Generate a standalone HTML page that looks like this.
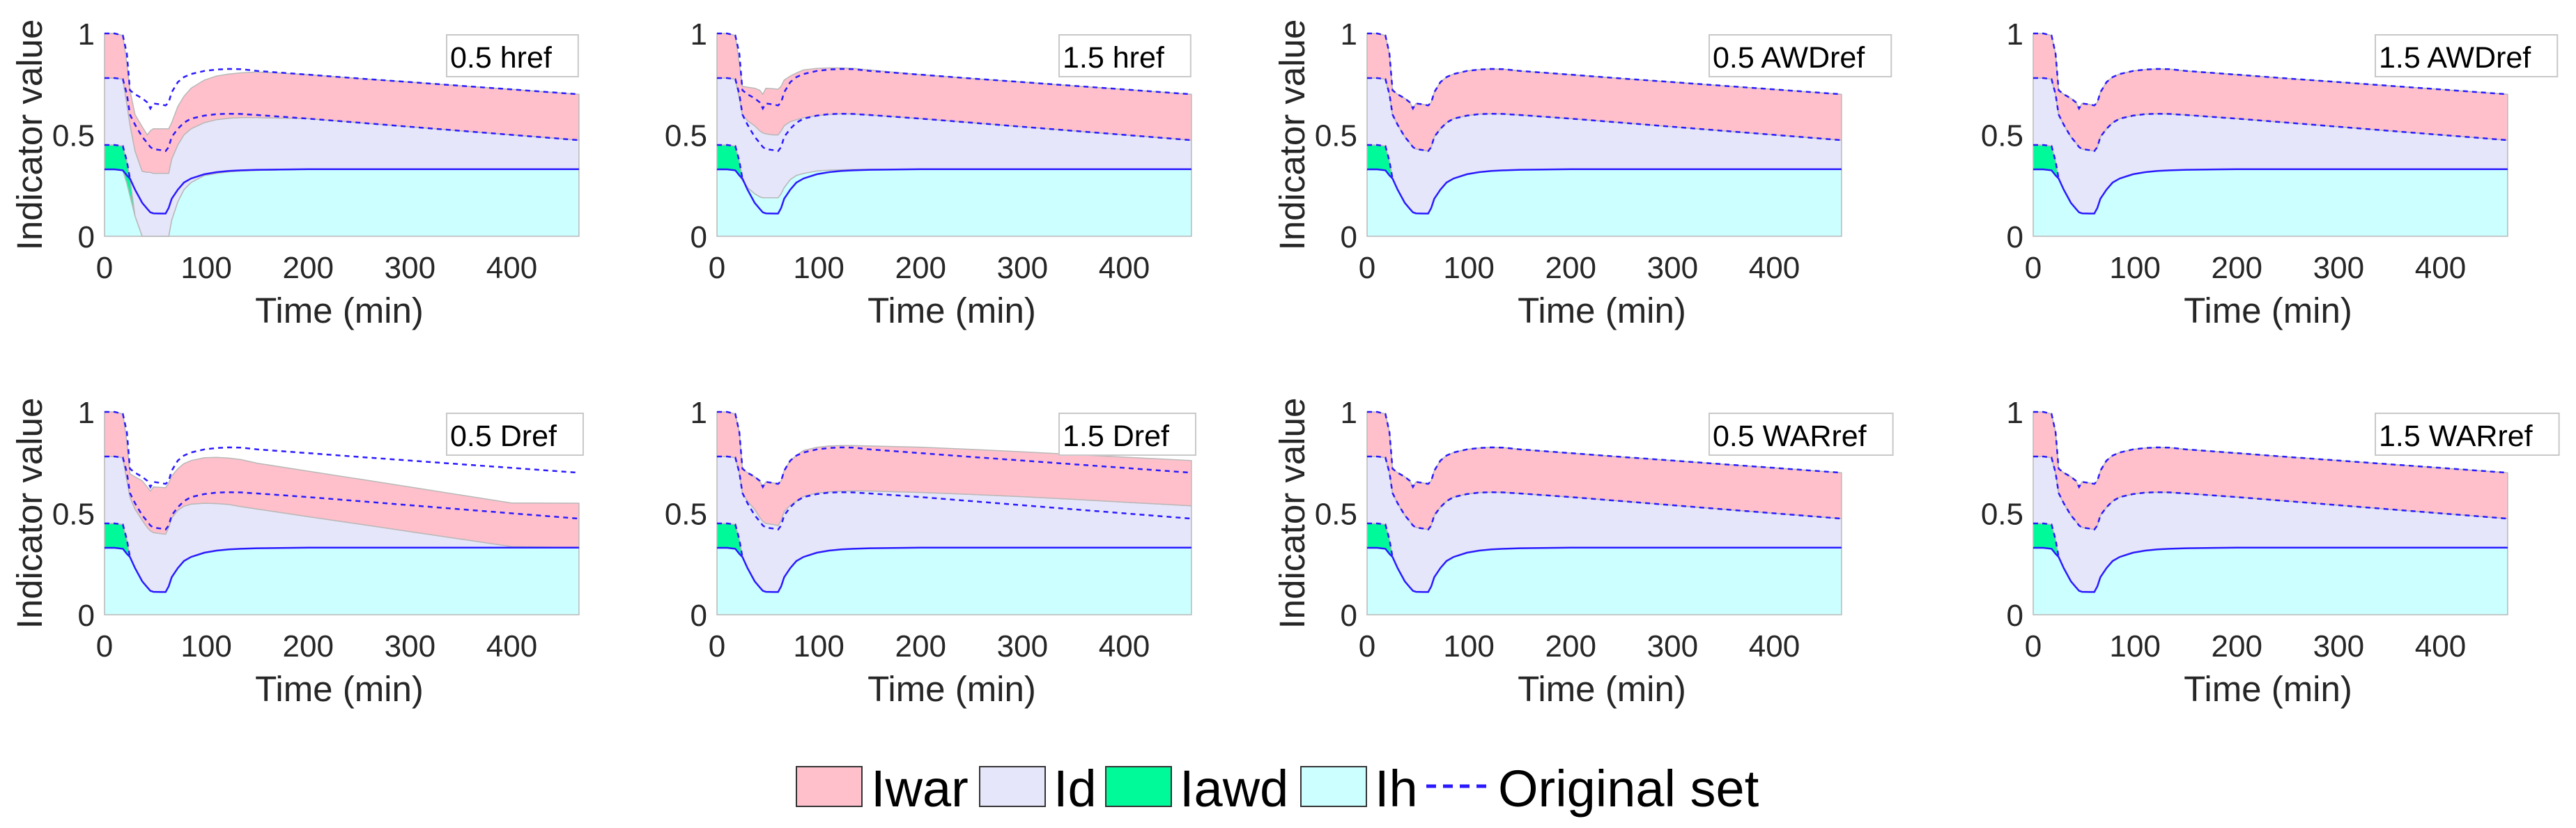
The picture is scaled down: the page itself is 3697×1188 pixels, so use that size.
<!DOCTYPE html>
<html><head><meta charset="utf-8"><style>
html,body{margin:0;padding:0;background:#fff;}
svg{display:block;font-family:"Liberation Sans",Arial,sans-serif;}
</style></head><body>
<svg id="fig" xmlns="http://www.w3.org/2000/svg" width="3697" height="1188" viewBox="0 0 3697 1188">
<rect x="0" y="0" width="3697" height="1188" fill="#fff"/>
<g id="panels"></g>
<g id="legend">
  <rect x="1143" y="1100" width="94" height="57" fill="#ffc0cb" stroke="#333" stroke-width="2"/>
  <text x="1250" y="1157" font-size="74">Iwar</text>
  <rect x="1406" y="1100" width="94" height="57" fill="#e6e6fa" stroke="#333" stroke-width="2"/>
  <text x="1512" y="1157" font-size="74">Id</text>
  <rect x="1587" y="1100" width="94" height="57" fill="#00fa9a" stroke="#333" stroke-width="2"/>
  <text x="1693" y="1157" font-size="74">Iawd</text>
  <rect x="1867" y="1100" width="94" height="57" fill="#ccffff" stroke="#333" stroke-width="2"/>
  <text x="1973" y="1157" font-size="74">Ih</text>
  <line x1="2047" y1="1128" x2="2142" y2="1128" stroke="#2a1aff" stroke-width="5" stroke-dasharray="14,10"/>
  <text x="2150" y="1157" font-size="74">Original set</text>
</g>
</svg>
<script>
const TIME = [0,10,18,22,25,30,37,42,45,48,55,60,63,66,72,78,85,98,110,122,134,150,200,250,300,350,400,466];
const ORIG_TOTAL = [1,1,0.99,0.9,0.72,0.7,0.68,0.66,0.63,0.655,0.65,0.645,0.66,0.71,0.76,0.785,0.80,0.815,0.822,0.825,0.824,0.815,0.797,0.778,0.76,0.742,0.724,0.70];
const ORIG_D = [0.78,0.78,0.775,0.7,0.6,0.55,0.49,0.46,0.44,0.43,0.425,0.42,0.44,0.49,0.53,0.56,0.58,0.595,0.602,0.604,0.603,0.598,0.58,0.56,0.54,0.52,0.5,0.474];
const ORIG_H = [0.33,0.33,0.325,0.30,0.285,0.23,0.165,0.135,0.118,0.113,0.112,0.112,0.14,0.185,0.23,0.265,0.285,0.306,0.316,0.322,0.325,0.328,0.331,0.331,0.331,0.331,0.331,0.331];
const AWD_HEAD = [0.45,0.45,0.445,0.37,0.285];

const HREF05_TOTAL = [1,1,0.99,0.85,0.72,0.6,0.54,0.5,0.52,0.53,0.53,0.53,0.53,0.56,0.64,0.69,0.73,0.77,0.79,0.8,0.806,0.81,0.797,0.778,0.76,0.742,0.724,0.70];
const HREF05_D = [0.78,0.78,0.775,0.65,0.55,0.42,0.32,0.315,0.315,0.31,0.31,0.31,0.31,0.38,0.45,0.5,0.53,0.56,0.575,0.582,0.585,0.585,0.58,0.56,0.54,0.52,0.5,0.474];
const HREF05_H = [0.33,0.33,0.325,0.26,0.2,0.1,0,0,0,0,0,0,0,0.08,0.17,0.23,0.265,0.3,0.31,0.318,0.322,0.325,0.33,0.331,0.331,0.331,0.331,0.331];

const HREF15_TOTAL = [1,1,0.99,0.85,0.74,0.735,0.73,0.72,0.70,0.73,0.728,0.725,0.74,0.77,0.79,0.805,0.82,0.828,0.83,0.83,0.828,0.82,0.797,0.778,0.76,0.742,0.724,0.70];
const HREF15_D = [0.78,0.78,0.775,0.68,0.6,0.57,0.545,0.52,0.51,0.505,0.5,0.5,0.52,0.545,0.565,0.575,0.585,0.595,0.6,0.604,0.603,0.598,0.58,0.56,0.54,0.52,0.5,0.474];
const HREF15_H = [0.33,0.33,0.325,0.3,0.275,0.24,0.21,0.195,0.19,0.19,0.19,0.19,0.21,0.24,0.28,0.3,0.31,0.322,0.326,0.328,0.33,0.331,0.331,0.331,0.331,0.331,0.331,0.331];

const DREF05_TOTAL = [1,1,0.99,0.85,0.695,0.68,0.66,0.63,0.61,0.63,0.628,0.626,0.65,0.684,0.72,0.745,0.76,0.774,0.776,0.772,0.765,0.747,0.708,0.669,0.63,0.59,0.551,0.55];
const DREF05_D = [0.78,0.78,0.775,0.66,0.58,0.52,0.466,0.43,0.414,0.405,0.4,0.397,0.43,0.477,0.515,0.535,0.545,0.55,0.548,0.544,0.533,0.521,0.484,0.447,0.41,0.373,0.336,0.331];

const DREF15_TOTAL = [1,1,0.99,0.9,0.72,0.7,0.68,0.66,0.63,0.655,0.65,0.645,0.66,0.71,0.76,0.785,0.81,0.825,0.832,0.834,0.834,0.832,0.826,0.815,0.803,0.79,0.777,0.76];
const DREF15_D = [0.78,0.78,0.775,0.7,0.6,0.56,0.52,0.48,0.46,0.45,0.445,0.44,0.465,0.51,0.54,0.56,0.583,0.6,0.606,0.609,0.611,0.61,0.603,0.593,0.582,0.569,0.555,0.537];

const PANEL_LABELS = ["0.5 href","1.5 href","0.5 AWDref","1.5 AWDref","0.5 Dref","1.5 Dref","0.5 WARref","1.5 WARref"];
const PANEL_TOTAL = [HREF05_TOTAL,HREF15_TOTAL,ORIG_TOTAL,ORIG_TOTAL,DREF05_TOTAL,DREF15_TOTAL,ORIG_TOTAL,ORIG_TOTAL];
const PANEL_D = [HREF05_D,HREF15_D,ORIG_D,ORIG_D,DREF05_D,DREF15_D,ORIG_D,ORIG_D];
const PANEL_H = [HREF05_H,HREF15_H,ORIG_H,ORIG_H,ORIG_H,ORIG_H,ORIG_H,ORIG_H];
const X_TICKS = [0,100,200,300,400];
const Y_TICKS = [0,0.5,1];
const Y_TICK_LABELS = ["0","0.5","1"];
const X_MAX = 464;

const NS = "http://www.w3.org/2000/svg";
const LEFTS = [150,1029,1962,2918];
const TOPS = [48,591];
const W = 678, H = 291;
const root = document.getElementById('panels');
function mk(tag, attrs, parent){
  const e = document.createElementNS(NS, tag);
  for (const k in attrs) e.setAttribute(k, attrs[k]);
  parent.appendChild(e); return e;
}
for (let p = 0; p < 8; p++) {
  const col = p % 4, row = Math.floor(p / 4);
  const L = LEFTS[col], T = TOPS[row];
  const xs = t => L + t / X_MAX * W;
  const ys = v => T + H - v * H;
  const g = mk('g', {}, root);
  
  
  const tot = PANEL_TOTAL[p], d = PANEL_D[p], h = PANEL_H[p];
  const awd = TIME.map((t,i) => i < AWD_HEAD.length ? AWD_HEAD[i] : h[i]);
  const band = (upper, lower, fill, name) => {
    let pts = TIME.map((t,i) => xs(t).toFixed(1) + ',' + ys(upper[i]).toFixed(1));
    for (let i = TIME.length - 1; i >= 0; i--) pts.push(xs(TIME[i]).toFixed(1) + ',' + ys(lower ? lower[i] : 0).toFixed(1));
    const e = mk('polygon', {points: pts.join(' '), fill: fill, stroke: '#b8b8b8', 'stroke-width': 1.5}, g);
    
    
  };
  band(h, null, '#ccffff', 'area-ih');
  band(awd, h, '#00fa9a', 'area-iawd');
  band(d, awd, '#e6e6fa', 'area-id');
  band(tot, d, '#ffc0cb', 'area-iwar');
  const line = (arr, n, dash, name) => {
    const pts = TIME.slice(0, n).map((t,i) => xs(t).toFixed(1) + ',' + ys(arr[i]).toFixed(1)).join(' ');
    const e = mk('polyline', {points: pts, fill: 'none', stroke: '#2a1aff', 'stroke-width': 2.5}, g);
    if (dash) e.setAttribute('stroke-dasharray', '7,6');
    
    
  };
  line(ORIG_TOTAL, TIME.length, true, 'original-total-line');
  line(ORIG_D, TIME.length, true, 'original-id-line');
  line(AWD_HEAD, AWD_HEAD.length, true, 'original-iawd-line');
  line(ORIG_H, TIME.length, false, 'original-ih-line');
  X_TICKS.forEach(v => {
    const e = mk('text', {x: xs(v), y: T + H + 60, 'font-size': 44, 'text-anchor': 'middle', fill: '#262626'}, g);
    e.textContent = String(v);
    
    
  });
  Y_TICKS.forEach((v,i) => {
    const e = mk('text', {x: L - 14, y: ys(v) + 16, 'font-size': 44, 'text-anchor': 'end', fill: '#262626'}, g);
    e.textContent = Y_TICK_LABELS[i];
    
    
  });
  const xl = mk('text', {x: L + W / 2 - 2, y: T + H + 124, 'font-size': 51, 'text-anchor': 'middle', fill: '#262626'}, g);
  xl.textContent = 'Time (min)';
  
  
  if (col === 0 || col === 2) {
    const cx = L - 90, cy = T + H / 2;
    const yl = mk('text', {x: cx, y: cy, 'font-size': 51, 'text-anchor': 'middle', fill: '#262626', transform: 'rotate(-90 ' + cx + ' ' + cy + ')'}, g);
    yl.textContent = 'Indicator value';
    
    
  }
  const bx = L + 491, by = T + 2;
  const box = mk('rect', {x: bx, y: by, width: 100, height: 60, fill: '#fff', stroke: '#c8c8c8', 'stroke-width': 2}, g);
  
  
  const lt = mk('text', {x: bx + 5, y: by + 47, 'font-size': 43, fill: '#000'}, g);
  lt.textContent = PANEL_LABELS[p];
  
  
  box.setAttribute('width', lt.getComputedTextLength() + 43);
}
</script>
</body></html>
